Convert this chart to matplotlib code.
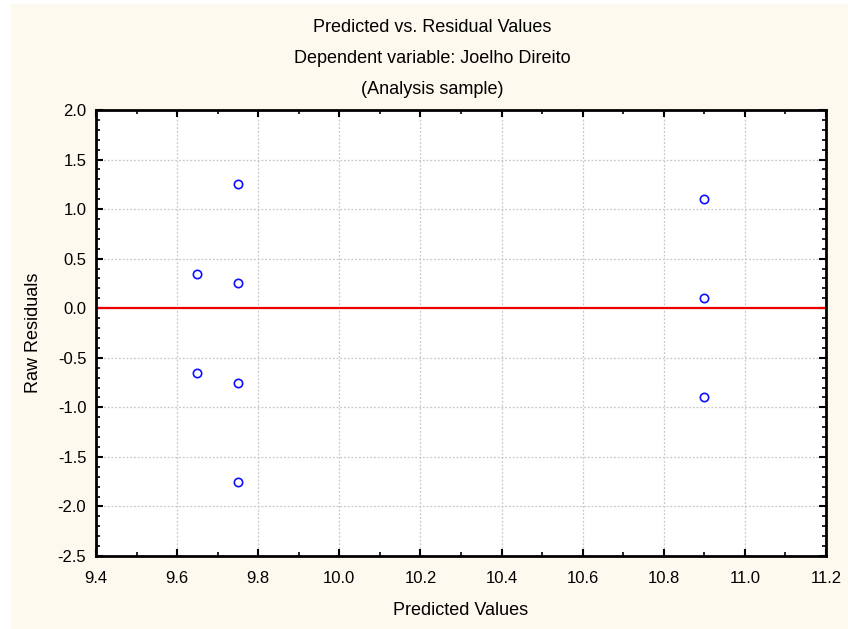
import matplotlib
matplotlib.use("Agg")
import matplotlib.pyplot as plt
from matplotlib.patches import Rectangle
from matplotlib.ticker import MultipleLocator, FormatStrFormatter

plt.rcParams['font.family'] = ['Liberation Sans', 'DejaVu Sans']

predicted = [9.65, 9.65, 9.75, 9.75, 9.75, 9.75, 10.9, 10.9, 10.9]
residuals = [0.35, -0.65, 1.25, 0.25, -0.75, -1.75, 1.1, 0.1, -0.9]
title_lines = ["Predicted vs. Residual Values",
               "Dependent variable: Joelho Direito",
               "(Analysis sample)"]

W, H = 848, 629
fig = plt.figure(figsize=(W / 100, H / 100), dpi=100, facecolor='white')
fig.patches.append(Rectangle((11 / W, 0), (W - 11) / W, (H - 4) / H,
                             transform=fig.transFigure, facecolor='#FEF9EE',
                             edgecolor='none', zorder=-10))

ax = fig.add_axes([96 / W, 1 - 556 / H, (826 - 96) / W, (556 - 110) / H])
ax.set_facecolor('white')

ax.set_xlim(9.4, 11.2)
ax.set_ylim(-2.5, 2.0)
ax.xaxis.set_major_locator(MultipleLocator(0.2))
ax.xaxis.set_minor_locator(MultipleLocator(0.1))
ax.yaxis.set_major_locator(MultipleLocator(0.5))
ax.yaxis.set_minor_locator(MultipleLocator(0.1))
ax.xaxis.set_major_formatter(FormatStrFormatter('%.1f'))
ax.yaxis.set_major_formatter(FormatStrFormatter('%.1f'))

ax.grid(True, which='major', color='#c8c8c8', linestyle=(0, (1.5, 1.5)), linewidth=0.9)
ax.set_axisbelow(True)

ax.tick_params(which='both', direction='in', top=True, right=True,
               labelsize=12, color='black')
ax.tick_params(axis='x', which='major', pad=11)
ax.tick_params(axis='y', which='major', pad=7)
ax.tick_params(which='major', length=5, width=1.5)
ax.tick_params(which='minor', length=3, width=1.2)
for s in ax.spines.values():
    s.set_linewidth(2)
    s.set_color('black')

ax.axhline(0, color='#ee0000', linewidth=1.6, zorder=2)
ax.plot(predicted, residuals, linestyle='none', marker='o', markersize=6,
        markerfacecolor='none', markeredgecolor='#1010ff', markeredgewidth=1.2, zorder=3)

fig.text(461 / W, 1 - 615 / H, "Predicted Values", ha='center', va='baseline', fontsize=13)
fig.text(34 / W, 1 - 333 / H, "Raw Residuals", ha='center', va='center',
         rotation=90, fontsize=13)

for i, t in enumerate(title_lines):
    fig.text(432 / W, 1 - (32 + 31 * i) / H, t,
             ha='center', va='baseline', fontsize=13)

fig.savefig("out.png", dpi=100, facecolor=fig.get_facecolor())
